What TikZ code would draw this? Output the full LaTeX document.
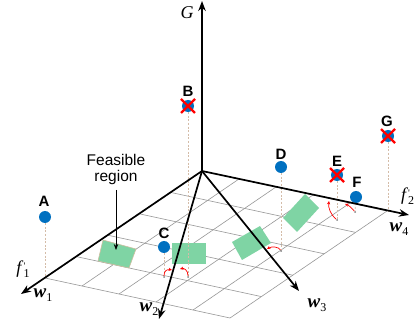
\documentclass[tikz,border=0pt]{standalone}
\usepackage{fontspec}
\setmainfont{Liberation Sans}
\newfontfamily\tms{Liberation Serif}
\usetikzlibrary{arrows.meta,calc}
\definecolor{ptblue}{RGB}{0,112,192}
\definecolor{feasgreen}{RGB}{127,212,164}
\definecolor{dashtan}{RGB}{212,188,168}
\definecolor{gridgray}{RGB}{150,150,150}
\definecolor{edgetan}{RGB}{205,190,160}
\newcommand{\primesub}[1]{\kern2pt\raisebox{-4pt}{\vbox{\baselineskip=0pt\lineskip=0pt\hbox{\fontsize{10}{10}\selectfont\upshape\textquotesingle}\hbox{\fontsize{12}{12}\selectfont\upshape #1}}}}
\begin{document}
\begin{tikzpicture}[x=1pt,y=-1pt,
  axis/.style={line width=1.7pt,-{Stealth[length=10pt,width=7.5pt]}},
  gridline/.style={gridgray,line width=0.6pt},
  drop/.style={dashtan,line width=0.7pt,dash pattern=on 2pt off 1.6pt},
  ptnode/.style={circle,fill=ptblue,inner sep=0pt,minimum size=12pt},
  lbl/.style={font=\fontsize{15}{15}\selectfont\bfseries,inner sep=0pt},
  footdot/.style={circle,fill=gray,inner sep=0pt,minimum size=2pt},
  rot/.style={red,line width=0.7pt,-{Stealth[length=3.5pt,width=3.2pt]}},
  cross/.style={red,line width=2.4pt},
  region/.style={fill=feasgreen,draw=none},
  axlbl/.style={inner sep=0pt,font=\tms\fontsize{19}{19}\selectfont},
  txt/.style={inner sep=0pt,anchor=base,font=\fontsize{15.5}{15.5}\selectfont}
]
\useasboundingbox (0,0) rectangle (418,331);
% grid
\foreach \i in {0,...,5}{
  \draw[gridline] ({202-31.4*\i},{171+21.4*\i}) -- ++(185,40);
  \draw[gridline] ({202+37*\i},{171+8*\i}) -- ++(-157,107);
}
% feasible regions
\draw[region,draw=edgetan,line width=0.6pt] (103,240) -- (136,249) -- (129,268) -- (98,261) -- cycle;
\fill[feasgreen] (172,243) rectangle (206,264);
\fill[feasgreen] (232,242) -- (260,226) -- (271,243) -- (242,260) -- cycle;
\fill[feasgreen] (283,218) -- (305,194) -- (319,208) -- (297,232) -- cycle;
% feet
\coordinate (Af) at (45,277);
\node[footdot] (Bf) at (188,277) {};
\node[footdot] (Cf) at (164,277) {};
\node[footdot] (Df) at (281,251) {};
\node[footdot] (Ef) at (337,220) {};
\node[footdot] (Ff) at (355,212) {};
\coordinate (Gf) at (388,211);
% points
\node[ptnode] (A) at (45,217) {};
\node[ptnode] (B) at (188,106) {};
\node[ptnode] (C) at (164,247) {};
\node[ptnode] (D) at (281,167) {};
\node[ptnode] (E) at (337,175) {};
\node[ptnode] (F) at (356,197) {};
\node[ptnode] (G) at (388,136) {};
\foreach \p in {A,B,C,D,E,F}{\draw[drop] (\p) -- (\p f);}
\draw[drop] (G) -- (Gf);
% rotation arrows
\coordinate (Ca) at (172,270);
\coordinate (Ba) at (180,269);
\coordinate (Da) at (267,249);
\coordinate (Ea) at (329,201);
\coordinate (Fa) at (345,204);
\draw[rot] (Cf) .. controls (164,271) and (167,269) .. (Ca);
\draw[rot] (Bf) .. controls (188,270) and (184,268) .. (Ba);
\draw[rot] (Df) .. controls (279,247) and (272,246) .. (Da);
\draw[rot] (Ef) .. controls (331,215) and (328,208) .. (Ea);
\draw[rot] (Ff) .. controls (351,207) and (348,205) .. (Fa);
% axes
\coordinate (O) at (202,171);
\coordinate (Gt) at (202,1);
\coordinate (w1t) at (21,294);
\coordinate (w2t) at (159,319);
\coordinate (w3t) at (299,291);
\coordinate (w4t) at (409,215);
\draw[axis] (O) -- (Gt);
\draw[axis] (O) -- (w1t);
\draw[axis] (O) -- (w2t);
\draw[axis] (O) -- (w3t);
\draw[axis] (O) -- (w4t);
% crosses
\foreach \p in {B,E,G}{
  \draw[cross] ($(\p)+(-7,-7)$) -- ($(\p)+(7,7)$);
  \draw[cross] ($(\p)+(-7,7)$) -- ($(\p)+(7,-7)$);
}
% point labels
\node[lbl] (Al) at (44,201) {A};
\node[lbl] (Bl) at (188,91) {B};
\node[lbl] (Cl) at (164,233) {C};
\node[lbl] (Dl) at (281,154) {D};
\node[lbl] (El) at (337,161) {E};
\node[lbl] (Fl) at (357,182) {F};
\node[lbl] (Gl) at (387,121) {G};
% axis labels
\node[axlbl,font=\tms\fontsize{18}{18}\selectfont\itshape] (Glab) at (187,13) {G};
\node[axlbl] (w1l) at (43,295) {\bfseries\itshape w\raisebox{-4pt}{\fontsize{12}{12}\selectfont\mdseries\upshape 1}};
\node[axlbl] (w2l) at (149,309) {\bfseries\itshape w\raisebox{-4pt}{\fontsize{12}{12}\selectfont\mdseries\upshape 2}};
\node[axlbl] (w3l) at (317,305) {\bfseries\itshape w\raisebox{-4pt}{\fontsize{12}{12}\selectfont\mdseries\upshape 3}};
\node[axlbl] (w4l) at (399,229) {\bfseries\itshape w\raisebox{-4pt}{\fontsize{12}{12}\selectfont\mdseries\upshape 4}};
\node[axlbl,font=\tms\fontsize{18}{18}\selectfont] (f1l) at (23,269) {\itshape f\primesub{1}};
\node[axlbl,font=\tms\fontsize{18}{18}\selectfont,anchor=west] (f2l) at (401,196) {\itshape f\primesub{2}};
% feasible region label
\node[txt] (feas) at (116,166) {Feasible};
\node[txt] (reg) at (116,182) {region};
\coordinate (R1c) at (116,250);
\draw[line width=0.7pt,-{Stealth[length=6pt,width=4.5pt]}] (116,190) -- (R1c);
\end{tikzpicture}
\end{document}
